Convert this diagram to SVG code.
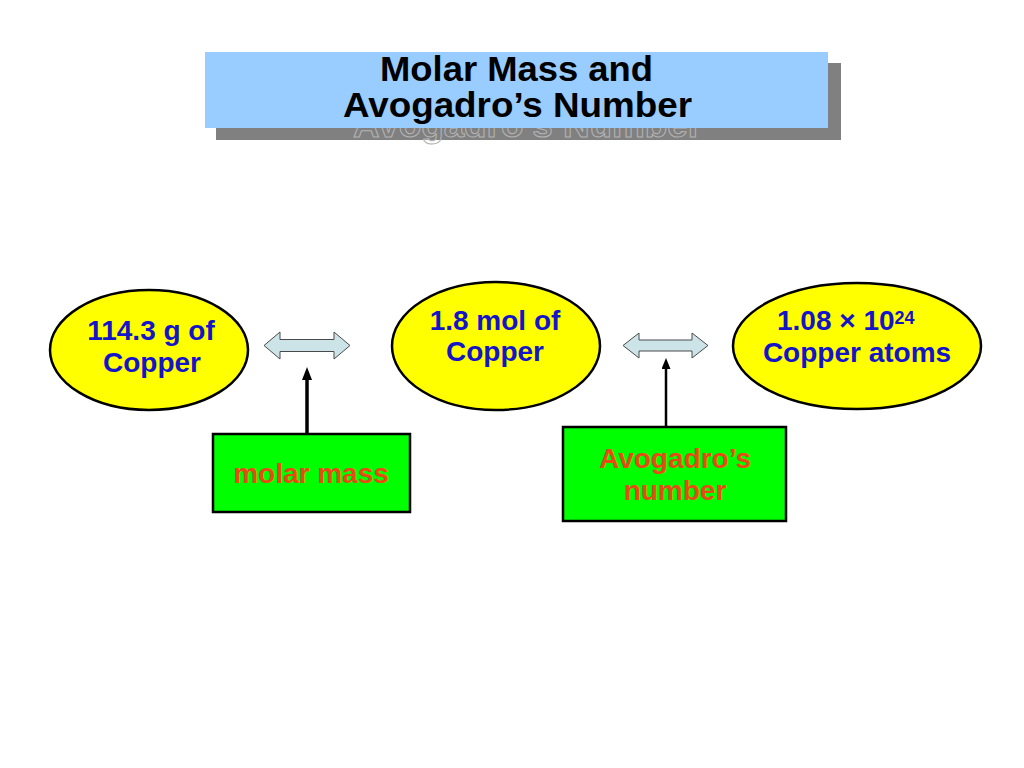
<svg xmlns="http://www.w3.org/2000/svg" width="1024" height="768" viewBox="0 0 1024 768">
<style>
  .title { font-family: "Liberation Sans", Arial, sans-serif; font-weight: bold; font-size: 35px; fill: #000; }
  .ghost { font-family: "Liberation Sans", Arial, sans-serif; font-weight: bold; font-size: 35px; fill: none; stroke: #b4b4b4; stroke-width: 1; }
  .oval { fill: #FFFF00; stroke: #000; stroke-width: 2.5; }
  .otext { font-family: "Liberation Sans", Arial, sans-serif; font-weight: bold; font-size: 28px; fill: #1414C8; text-anchor: middle; }
  .box { fill: #00FF00; stroke: #000; stroke-width: 2.5; }
  .btext { font-family: "Liberation Sans", Arial, sans-serif; font-weight: bold; font-size: 28px; fill: #E84A16; text-anchor: middle; }
  .darrow { fill: #CCE4E8; stroke: #4a4a4a; stroke-width: 1; }
  .line { stroke: #000; fill: none; }
</style>
<defs>
  <marker id="ahL" viewBox="0 0 13 10" refX="0" refY="5" markerWidth="13" markerHeight="10" orient="auto" markerUnits="userSpaceOnUse">
    <path d="M0,0 L13,5 L0,10 Z" fill="#000"/>
  </marker>
  <marker id="ahR" viewBox="0 0 11 9" refX="0" refY="4.5" markerWidth="11" markerHeight="9" orient="auto" markerUnits="userSpaceOnUse">
    <path d="M0,0 L11,4.5 L0,9 Z" fill="#000"/>
  </marker>
</defs>
<rect width="1024" height="768" fill="#fff"/>

<g id="title">
  <rect x="216" y="63" width="625" height="77" fill="#808080"/>
  <text class="ghost" x="353" y="137" textLength="349" lengthAdjust="spacingAndGlyphs">Avogadro’s Number</text>
  <rect x="205" y="52" width="623" height="76" fill="#99CCFF"/>
  <text class="title"><tspan x="380" y="81" textLength="273" lengthAdjust="spacingAndGlyphs">Molar Mass and</tspan><tspan x="343" y="117" textLength="349" lengthAdjust="spacingAndGlyphs">Avogadro’s Number</tspan></text>
</g>

<g id="grams">
  <ellipse class="oval" cx="149" cy="350" rx="99" ry="60"/>
  <text class="otext" x="151" y="340">114.3 g of</text>
  <text class="otext" x="152" y="372">Copper</text>
</g>

<g id="moles">
  <ellipse class="oval" cx="496" cy="346" rx="104" ry="64"/>
  <text class="otext" x="495" y="330">1.8 mol of</text>
  <text class="otext" x="495" y="361">Copper</text>
</g>

<g id="atoms">
  <ellipse class="oval" cx="857" cy="346" rx="124" ry="63"/>
  <text class="otext" x="777" y="330" style="text-anchor:start">1.08 × 10<tspan font-size="18" dy="-6">24</tspan></text>
  <text class="otext" x="857" y="362">Copper atoms</text>
</g>

<g id="molar-mass">
  <rect class="box" x="213" y="434" width="197" height="78"/>
  <text class="btext" x="311" y="483">molar mass</text>
</g>

<g id="avogadro-number">
  <rect class="box" x="563" y="427" width="223" height="94"/>
  <text class="btext" x="675" y="468">Avogadro’s</text>
  <text class="btext" x="675" y="500">number</text>
</g>

<g id="connectors">
  <path class="darrow" d="M264,345.5 L280,332 L280,339.5 L334,339.5 L334,332 L350,345.5 L334,359 L334,351.5 L280,351.5 L280,359 Z"/>
  <path class="darrow" d="M623,345.5 L639,333 L639,340 L692,340 L692,333 L708,345.5 L692,358 L692,351 L639,351 L639,358 Z"/>
  <line class="line" x1="307" y1="434" x2="307" y2="380" stroke-width="3.5" marker-end="url(#ahL)"/>
  <line class="line" x1="666" y1="427" x2="666" y2="369" stroke-width="2.5" marker-end="url(#ahR)"/>
</g>
</svg>
